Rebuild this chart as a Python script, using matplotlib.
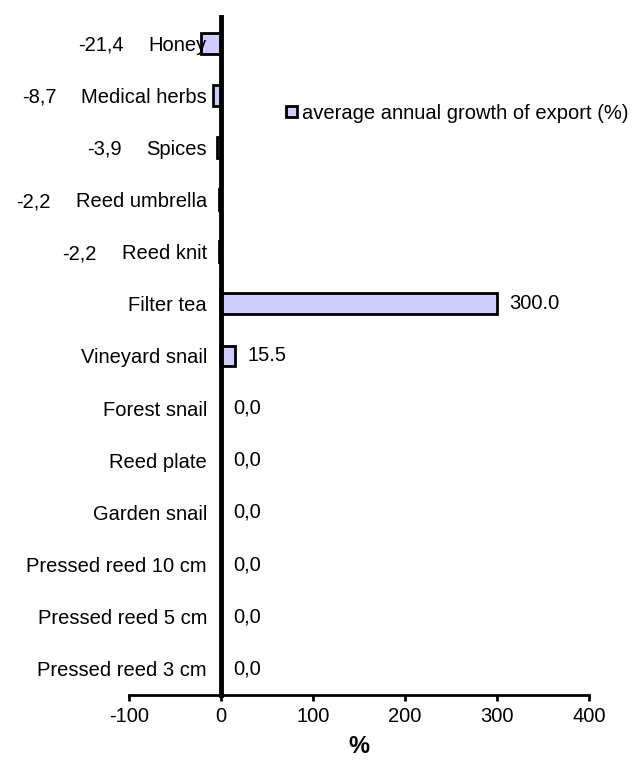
import matplotlib
matplotlib.use("Agg")
import matplotlib.pyplot as plt

plt.rcParams['font.family'] = ['Liberation Sans', 'DejaVu Sans']

# products, top to bottom
products = ["Honey", "Medical herbs", "Spices", "Reed umbrella", "Reed knit",
            "Filter tea", "Vineyard snail", "Forest snail", "Reed plate",
            "Garden snail", "Pressed reed 10 cm", "Pressed reed 5 cm",
            "Pressed reed 3 cm"]
growth = [-21.4, -8.7, -3.9, -2.2, -2.2, 300.0, 15.5,
          0.0, 0.0, 0.0, 0.0, 0.0, 0.0]
series_name = "average annual growth of export (%)"
x_ticks = [-100, 0, 100, 200, 300, 400]

FS = 14.5


def fmt(v):
    # positive values were typed with a dot, the rest with a decimal comma
    s = "%.1f" % v
    return s if v > 0 else s.replace(".", ",")


fig = plt.figure(figsize=(6.38, 7.76), dpi=100)
ax = fig.add_axes([0.2022, 0.1044, 0.721, 0.8737])

# spines first: moving a spine rebuilds the ticks
for s in ["top", "right"]:
    ax.spines[s].set_visible(False)
ax.spines["left"].set_position(("data", 0))
ax.spines["left"].set_linewidth(3.5)
ax.spines["bottom"].set_linewidth(2)

pos = list(range(len(products)))
ax.barh(pos, growth, height=0.4, color="#CCCCFF", edgecolor="black",
        linewidth=2, label=series_name)

ax.set_xlim(-100, 400)
ax.set_ylim(len(products) - 0.5, -0.5)
ax.set_xticks(x_ticks)
ax.set_xticklabels([str(t) for t in x_ticks])
ax.set_yticks(pos)
ax.set_yticklabels(products)
ax.tick_params(axis="y", length=0, pad=10, labelsize=FS)
ax.tick_params(axis="x", length=4, width=2, direction="out", pad=5,
               labelsize=FS)

ax.set_xlabel("%", fontsize=17, fontweight="bold", labelpad=6)

fig.canvas.draw()
ticklabels = ax.get_yticklabels()
for i, v in enumerate(growth):
    if v < 0:
        # negative values sit to the left of the product name
        ax.annotate(fmt(v), xy=(0, 0.5), xycoords=ticklabels[i],
                    xytext=(-18, 0), textcoords="offset points",
                    ha="right", va="center", fontsize=FS)
    else:
        ax.annotate(fmt(v), xy=(v, i), xytext=(9, 0),
                    textcoords="offset points", ha="left", va="center",
                    fontsize=FS)

ax.legend(loc="center left", bbox_to_anchor=(0.449, 0.854),
          bbox_transform=fig.transFigure, frameon=False, fontsize=FS,
          handlelength=0.5, handleheight=0.5, handletextpad=0.25,
          borderpad=0, borderaxespad=0)

fig.savefig("out.png", dpi=100)
